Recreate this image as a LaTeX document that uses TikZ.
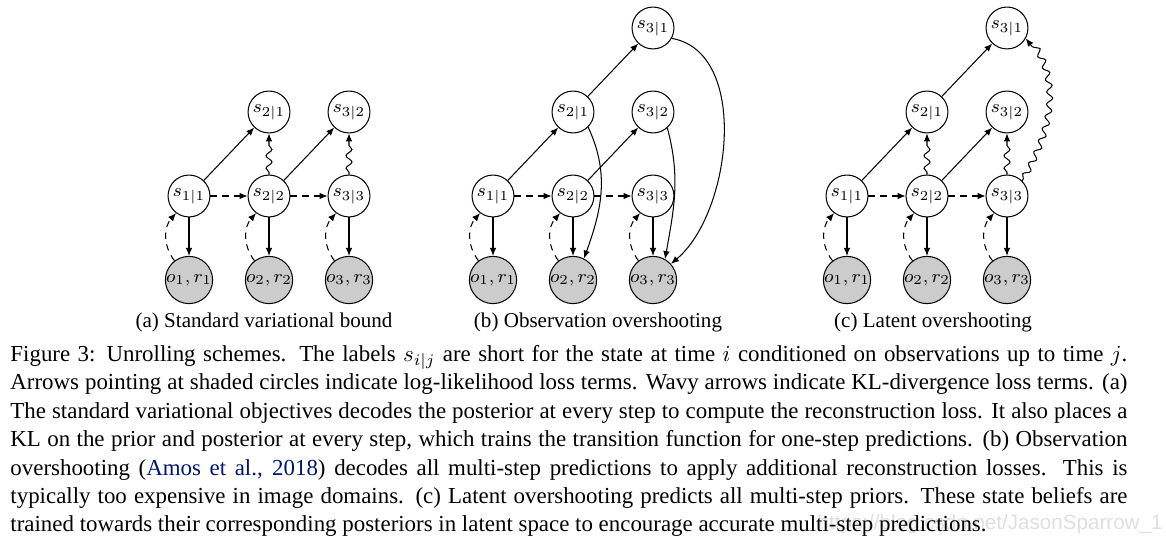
\documentclass[tikz,border=0pt]{standalone}
\usepackage{fontspec}
\setmainfont{Liberation Serif}
\newfontfamily\wmfont{Liberation Sans}
\usetikzlibrary{arrows.meta,decorations.pathmorphing}
\definecolor{citeblue}{rgb}{0,0.08,0.45}
\begin{document}
\begin{tikzpicture}[x=0.4367pt,y=0.4367pt,
  st/.style={circle,draw,line width=0.45pt,minimum size=18.3pt,inner sep=0pt,font=\fontsize{8.3}{9}\selectfont},
  ob/.style={st,fill=gray!40},
  arr/.style={-{Latex[length=3.5pt,width=2.9pt]},line width=0.45pt},
  dsh/.style={arr,dash pattern=on 2.8pt off 2.4pt},
  wav/.style={arr,decorate,decoration={snake,amplitude=1.3pt,segment length=5.5pt,pre length=1pt,post length=3.8pt}},
  sub/.style={anchor=base,inner sep=0pt,font=\fontsize{9.2}{11}\selectfont},
]
\useasboundingbox (0,0) rectangle (1166,546);
% common structure of the three panels
\foreach \p/\dx in {a/0,b/304,c/658}{
  \node[st] (\p11) at (189+\dx,350) {$s_{1|1}$};
  \node[st] (\p22) at (269+\dx,350) {$s_{2|2}$};
  \node[st] (\p33) at (349+\dx,350) {$s_{3|3}$};
  \node[st] (\p21) at (269+\dx,434) {$s_{2|1}$};
  \node[st] (\p32) at (349+\dx,434) {$s_{3|2}$};
  \node[ob] (\p o1) at (189+\dx,266) {$o_1,r_1$};
  \node[ob] (\p o2) at (269+\dx,266) {$o_2,r_2$};
  \node[ob] (\p o3) at (349+\dx,266) {$o_3,r_3$};
  \draw[arr] (\p11) -- (\p21);
  \draw[arr] (\p22) -- (\p32);
  \draw[dsh] (\p11) -- (\p22);
  \draw[dsh] (\p22) -- (\p33);
  \draw[arr] (\p11) -- (\p o1);
  \draw[arr] (\p22) -- (\p o2);
  \draw[arr] (\p33) -- (\p o3);
  \draw[dsh] (\p o1.127) to[bend left=40] (\p11.233);
  \draw[dsh] (\p o2.127) to[bend left=40] (\p22.233);
  \draw[dsh] (\p o3.127) to[bend left=40] (\p33.233);
}
% panel (a)
\draw[wav] (a22) -- (a21);
\draw[wav] (a33) -- (a32);
% panel (b)
\node[st] (b31) at (653,518) {$s_{3|1}$};
\draw[arr] (b21) -- (b31);
\draw[arr] (b21.-45) to[out=-65,in=70] (bo2.63);
\draw[arr] (b32.-48) to[out=-75,in=80] (bo3.60);
\draw[arr] (b31.-29) to[out=-10,in=40,looseness=0.9] (bo3.42);
% panel (c)
\node[st] (c31) at (1007,518) {$s_{3|1}$};
\draw[arr] (c21) -- (c31);
\draw[wav] (c22) -- (c21);
\draw[wav] (c33) -- (c32);
\draw[wav] (c33.45) to[out=60,in=-50] (c31.-29);
% sub-captions
\node[sub] (capa) at (264,218) {(a) Standard variational bound};
\node[sub] (capb) at (598,218) {(b) Observation overshooting};
\node[sub] (capc) at (933,218) {(c) Latent overshooting};
% watermark
\node[anchor=base east,inner sep=0pt,text=gray!25,font=\wmfont\fontsize{9}{10}\selectfont] (wm) at (1163,16) {https://blog.csdn.net/JasonSparrow\_1};
% caption
\node[anchor=north west,inner sep=0pt,text width=487.8pt,align=justify,font=\fontsize{10}{12.4}\selectfont] (cap) at (10,201) {Figure 3: Unrolling schemes. The labels $s_{i|j}$ are short for the state at time $i$ conditioned on observations up to time $j$.\linebreak
Arrows pointing at shaded circles indicate log-likelihood loss terms. Wavy arrows indicate KL-divergence loss terms. (a)\linebreak
The standard variational objectives decodes the posterior at every step to compute the reconstruction loss. It also places a\linebreak
KL on the prior and posterior at every step, which trains the transition function for one-step predictions. (b) Observation\linebreak
overshooting ({\color{citeblue}Amos et~al., 2018}) decodes all multi-step predictions to apply additional reconstruction losses. This is\linebreak
typically too expensive in image domains. (c) Latent overshooting predicts all multi-step priors. These state beliefs are\linebreak
trained towards their corresponding posteriors in latent space to encourage accurate multi-step predictions.};
\end{tikzpicture}
\end{document}
